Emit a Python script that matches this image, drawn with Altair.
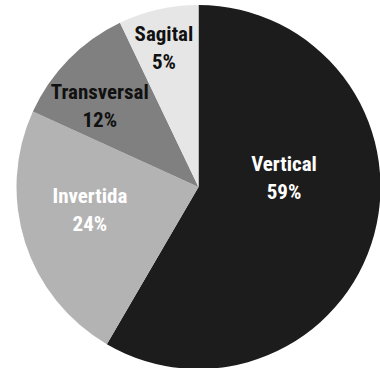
import altair as alt
import pandas as pd
import math

# ---- data ----
categories = ["Vertical", "Invertida", "Transversal", "Sagital"]
slice_values = [58.4, 23.4, 11.1, 7.1]          # wedge sizes as drawn
label_texts = ["59%", "24%", "12%", "5%"]        # printed percentages

# ---- styling / layout (kept apart from the data) ----
slice_colors = ["#1c1c1c", "#b3b3b3", "#808080", "#e6e6e6"]
text_colors = ["#ffffff", "#ffffff", "#111111", "#111111"]
label_angle_deg = [84, 258, 309.5, 346]
label_radius_px = [86, 111, 128, 143]
CX, CY, R = 198.5, 187, 182
FONT = "Roboto Condensed"

df = pd.DataFrame({
    "category": categories,
    "value": slice_values,
    "order": list(range(len(categories))),
    "label": [f"{c}\n{t}" for c, t in zip(categories, label_texts)],
    "lang": [math.radians(a) for a in label_angle_deg],
    "lrad": label_radius_px,
})

base = alt.Chart(df)

arcs = base.mark_arc(radius=R, stroke=None).encode(
    theta=alt.Theta("value:Q", stack=True),
    order=alt.Order("order:Q"),
    color=alt.Color("category:N",
                    scale=alt.Scale(domain=categories, range=slice_colors),
                    legend=None),
    x=alt.value(CX),
    y=alt.value(CY),
)

labels = base.mark_text(
    font=FONT, fontSize=21, fontWeight="bold",
    align="center", baseline="middle", lineBreak="\n", lineHeight=28, dy=-13,
).encode(
    theta=alt.Theta("lang:Q", scale=None),
    radius=alt.Radius("lrad:Q", scale=None),
    text="label:N",
    color=alt.Color("category:N",
                    scale=alt.Scale(domain=categories, range=text_colors),
                    legend=None),
    x=alt.value(CX),
    y=alt.value(CY),
)

chart = alt.layer(arcs, labels).resolve_scale(color="independent").properties(
    width=380, height=368,
    autosize=alt.AutoSizeParams(type="none"),
    padding=0,
    background="#ffffff",
).configure_view(stroke=None)

chart.save("out.html", embed_options={"renderer": "svg", "actions": False})
